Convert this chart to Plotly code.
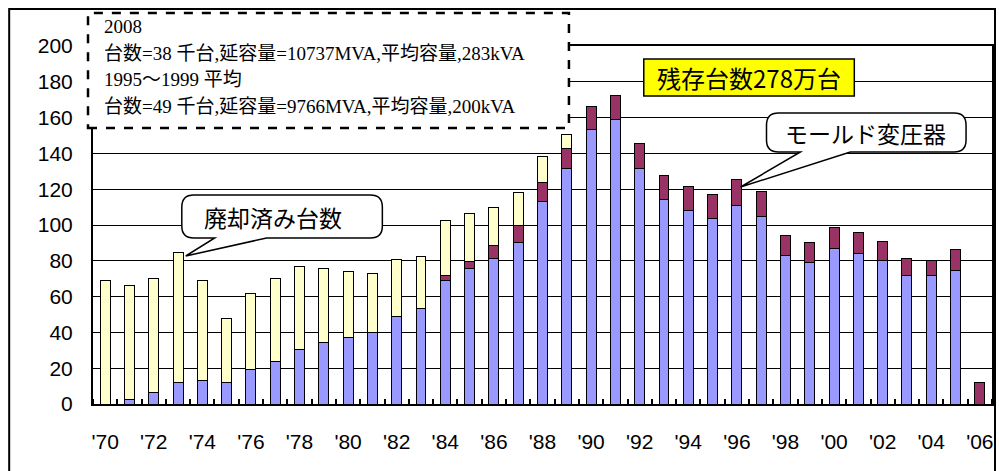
import plotly.graph_objects as go

years = list(range(1970, 2007))
# 在来(油入)変圧器 残存台数 (千台)
normal = [None, 2.5, 6.3, 12, 13, 12, 19, 23.6, 30.5, 34.2, 37, 39.8, 49, 53.5,
          68.8, 75.5, 81.1, 90, 113, 131.3, 153.3, 158.8, 131.3, 114.2, 108.3,
          103.6, 111, 104.5, 83.1, 79.2, 86.9, 84.3, 80.4, 71.6, 71.6, 74.4, None]
# モールド変圧器
mold = [None] * 14 + [3.2, 3.9, 7.3, 9.5, 10.5, 11.4, 12.7, 13.6, 14.5, 13.2, 13.3,
                      13.4, 14.6, 14.4, 10.9, 10.8, 11.7, 11.5, 10.6, 9.7, 8.8, 11.7, 12.1]
# 廃却済み台数
scrapped = [69.2, 63.5, 63.7, 72.5, 56, 36, 43, 46.4, 46.1, 41.5, 36.8, 32.9, 31.5, 28.8,
            30.3, 27, 21.6, 18.5, 14.5, 8] + [None] * 17

tick_years = list(range(1970, 2007, 2))
tick_text = ["'%02d" % (y % 100) for y in tick_years]

info_lines = [
    "2008",
    "台数=38 千台,延容量=10737MVA,平均容量,283kVA",
    "1995～1999 平均",
    "台数=49 千台,延容量=9766MVA,平均容量,200kVA",
]

W, H = 999, 471
L, R, T, B = 93, 994, 46, 404  # plot area in pixels


def px(x):
    return (x - L) / (R - L)


def py(y):
    return (B - y) / (B - T)


def bubble(x0, y0, x1, y1, bx0, bx1, tx, ty, r=12):
    # rounded box with a wedge pointer from the bottom edge
    pts = [
        f"M {px(x0 + r)},{py(y0)}",
        f"L {px(x1 - r)},{py(y0)}",
        f"Q {px(x1)},{py(y0)} {px(x1)},{py(y0 + r)}",
        f"L {px(x1)},{py(y1 - r)}",
        f"Q {px(x1)},{py(y1)} {px(x1 - r)},{py(y1)}",
        f"L {px(bx1)},{py(y1)}",
        f"L {px(tx)},{py(ty)}",
        f"L {px(bx0)},{py(y1)}",
        f"L {px(x0 + r)},{py(y1)}",
        f"Q {px(x0)},{py(y1)} {px(x0)},{py(y1 - r)}",
        f"L {px(x0)},{py(y0 + r)}",
        f"Q {px(x0)},{py(y0)} {px(x0 + r)},{py(y0)} Z",
    ]
    return dict(type="path", xref="paper", yref="paper", path=" ".join(pts),
                fillcolor="white", line=dict(color="black", width=1.5), layer="above")


fig = go.Figure()
line = dict(color="black", width=1)
fig.add_trace(go.Bar(x=years, y=normal, marker=dict(color="#9999FF", line=line), name="在来"))
fig.add_trace(go.Bar(x=years, y=mold, marker=dict(color="#993366", line=line), name="モールド変圧器"))
fig.add_trace(go.Bar(x=years, y=scrapped, marker=dict(color="#FFFFCC", line=line), name="廃却済み台数"))

shapes = [
    # outer frame
    dict(type="rect", xref="paper", yref="paper", x0=px(9), x1=px(997), y0=py(480), y1=py(9),
         line=dict(color="black", width=2), layer="below"),
    # dashed info box
    dict(type="rect", xref="paper", yref="paper", x0=px(88), x1=px(570), y0=py(128), y1=py(13),
         fillcolor="white", line=dict(color="black", width=2.5, dash="dash"), layer="above"),
    bubble(182, 195, 383, 238, 215, 267, 186, 256),
    bubble(768, 113, 968, 152, 802, 852, 742, 187),
    # yellow label box
    dict(type="rect", xref="paper", yref="paper", x0=px(645), x1=px(856), y0=py(96), y1=py(59),
         fillcolor="#FFFF00", line=dict(color="black", width=1.5), layer="above"),
]

annotations = []
for i, t in enumerate(info_lines):
    annotations.append(dict(xref="paper", yref="paper", x=px(102), y=py(27 + i * 26.5),
                            xanchor="left", yanchor="middle", text=t, showarrow=False,
                            font=dict(family="Liberation Serif, Noto Sans CJK JP", size=19, color="black")))
annotations += [
    dict(xref="paper", yref="paper", x=px(273), y=py(217), text="廃却済み台数", showarrow=False,
         xanchor="center", yanchor="middle",
         font=dict(family="Noto Sans CJK JP", size=23, color="black")),
    dict(xref="paper", yref="paper", x=px(867), y=py(133), text="モールド変圧器", showarrow=False,
         xanchor="center", yanchor="middle",
         font=dict(family="Noto Sans CJK JP", size=23, color="black")),
    dict(xref="paper", yref="paper", x=px(750), y=py(77.5), text="残存台数278万台", showarrow=False,
         xanchor="center", yanchor="middle",
         font=dict(family="Noto Sans CJK JP", size=24, color="black")),
]

fig.update_layout(
    width=W, height=H,
    margin=dict(l=L, r=W - R, t=T, b=H - B),
    barmode="stack", bargap=0.59,
    showlegend=False,
    plot_bgcolor="white", paper_bgcolor="white",
    font=dict(family="Liberation Sans, Arial", size=21, color="black"),
    shapes=shapes, annotations=annotations,
)
fig.update_xaxes(
    range=[1969.5, 2006.5], tickvals=tick_years, ticktext=tick_text,
    ticks="", showline=True, linecolor="black", linewidth=2, mirror=True,
    showgrid=False, ticklabelstandoff=18,
    minor=dict(ticks="inside", tick0=1969.5, dtick=1, ticklen=5, tickcolor="black", tickwidth=1.5),
)
fig.update_yaxes(
    range=[0, 200], dtick=20, showgrid=True, gridcolor="black", gridwidth=1,
    showline=True, linecolor="black", linewidth=2, mirror=True,
    ticks="", ticklabelstandoff=14, zeroline=False,
)

# drop the default page margin so the figure sits at the window's corner
fig.write_html("out.html", config={"displayModeBar": False},
               post_script="document.body.style.margin='0';")
